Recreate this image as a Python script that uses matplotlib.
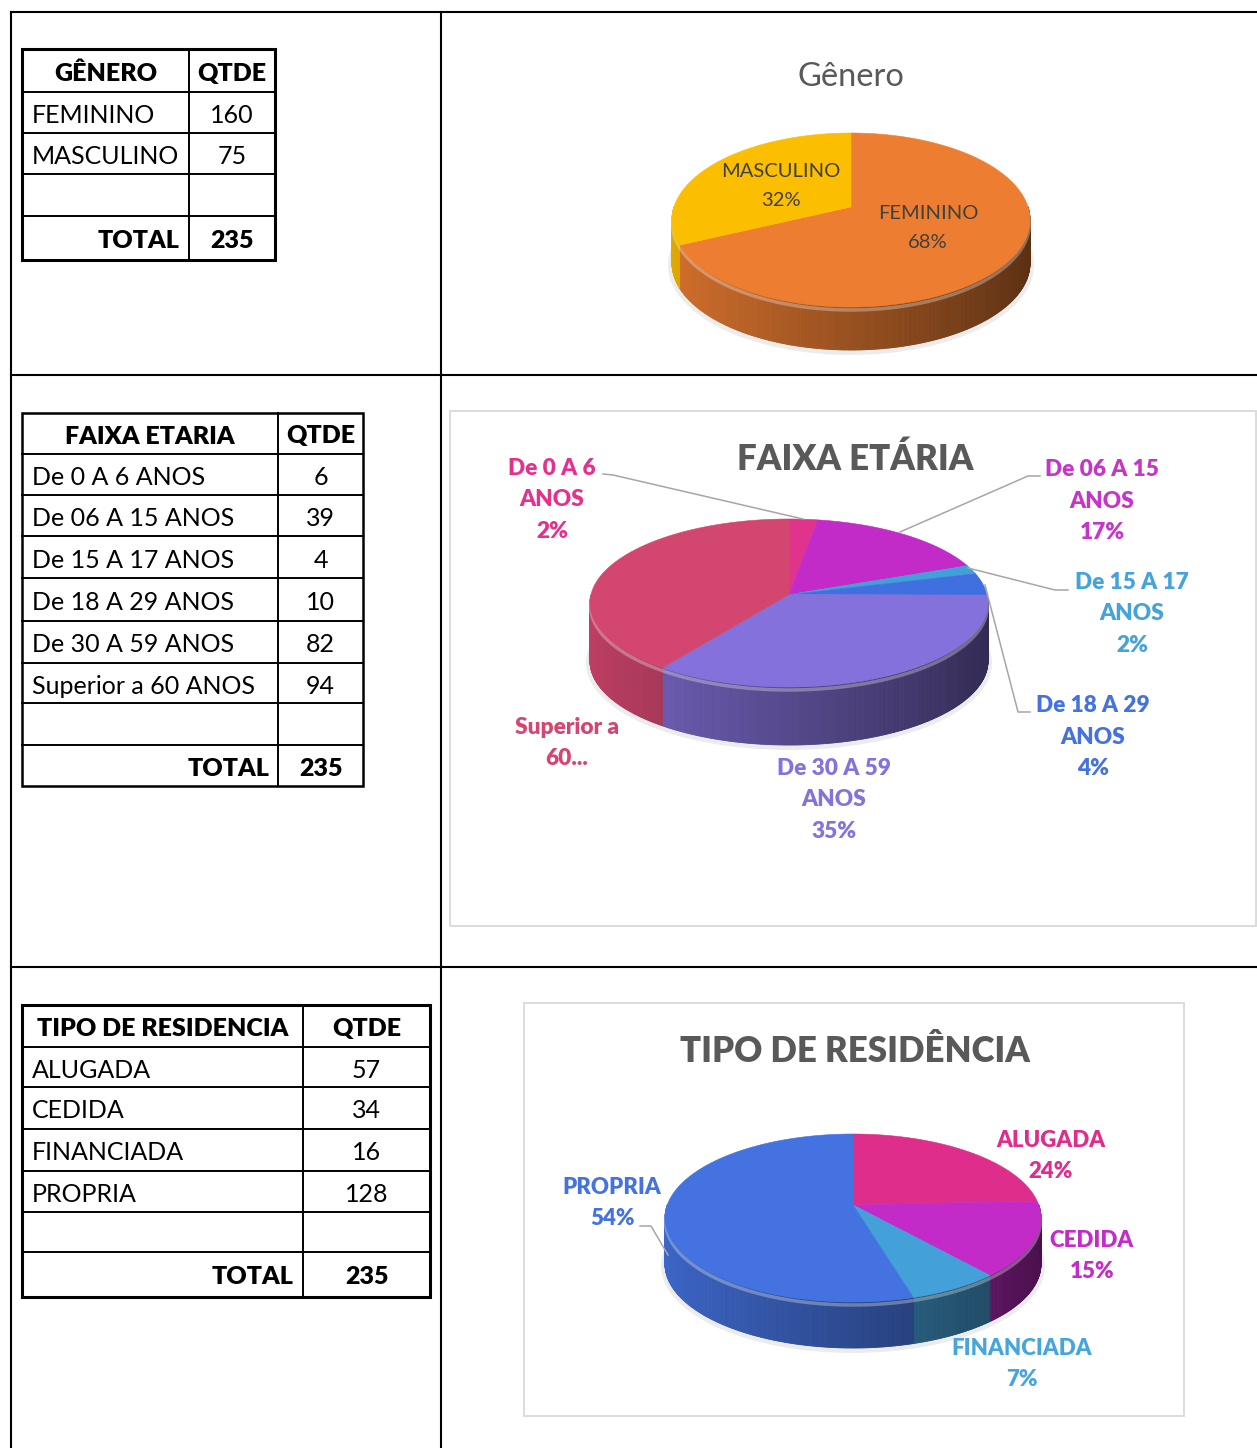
import matplotlib
matplotlib.use("Agg")
import matplotlib.pyplot as plt
import matplotlib.colors as mcolors
from matplotlib.collections import PolyCollection
from matplotlib.patches import Rectangle, Ellipse, Polygon
import numpy as np

plt.rcParams["font.family"] = ["Lato", "DejaVu Sans"]

W, H = 1257, 1448
NEGRITO = "heavy"

# dados
genero = ["FEMININO", "MASCULINO"]
genero_qtde = [160, 75]
genero_pct = ["68%", "32%"]
genero_cores = ["#ED7D31", "#FBBE00"]

faixa = ["De 0 A 6 ANOS", "De 06 A 15 ANOS", "De 15 A 17 ANOS",
         "De 18 A 29 ANOS", "De 30 A 59 ANOS", "Superior a 60 ANOS"]
faixa_qtde = [6, 39, 4, 10, 82, 94]
faixa_rotulos = ["De 0 A 6\nANOS\n2%", "De 06 A 15\nANOS\n17%", "De 15 A 17\nANOS\n2%",
                 "De 18 A 29\nANOS\n4%", "De 30 A 59\nANOS\n35%", "Superior a\n60..."]
faixa_cores = ["#E0338C", "#C22BC8", "#42A0D9", "#4070E0", "#8571DB", "#D3466F"]
faixa_cores_txt = ["#E4318E", "#C634C9", "#45A3DA", "#4472E0", "#8672DD", "#D4466F"]

residencia = ["ALUGADA", "CEDIDA", "FINANCIADA", "PROPRIA"]
residencia_qtde = [57, 34, 16, 128]
residencia_pct = ["24%", "15%", "7%", "54%"]
residencia_cores = ["#DE2D8B", "#C22BC8", "#44A0D8", "#4472E0"]
residencia_cores_txt = ["#DE2D8C", "#C42BC9", "#47A5DD", "#4472E0"]

fig = plt.figure(figsize=(W / 100, H / 100), dpi=100)


def eixo_pixel(z):
    ax = fig.add_axes([0, 0, 1, 1], zorder=z)
    ax.set_xlim(0, W)
    ax.set_ylim(H, 0)
    ax.axis("off")
    return ax


bg = eixo_pixel(0)
topo = eixo_pixel(5)

# grade da pagina
lw_grade = 1.5
bg.plot([11, 11], [12, H], color="black", lw=lw_grade)
bg.plot([441, 441], [12, H], color="black", lw=lw_grade)
for y in [12, 375, 967]:
    bg.plot([11, W], [y, y], color="black", lw=lw_grade)


def tabela(xs, ys, cabecalho, nomes, qtdes, borda):
    x0, xm, x1 = xs
    for y in ys[1:-1]:
        bg.plot([x0, x1], [y, y], color="black", lw=1.4)
    bg.plot([xm, xm], [ys[0], ys[-1]], color="black", lw=1.4)
    bg.add_patch(Rectangle((x0, ys[0]), x1 - x0, ys[-1] - ys[0], fill=False,
                           lw=borda, ec="black", joinstyle="miter"))
    meios = [(a + b) / 2 + 3 for a, b in zip(ys[:-1], ys[1:])]
    cq = (xm + x1) / 2
    fs = 18
    bg.text((x0 + xm) / 2, meios[0], cabecalho, ha="center", va="center",
            fontsize=fs, fontweight=NEGRITO)
    bg.text(cq, meios[0], "QTDE", ha="center", va="center", fontsize=fs, fontweight=NEGRITO)
    for i, (n, q) in enumerate(zip(nomes, qtdes)):
        bg.text(x0 + 10, meios[i + 1], n, ha="left", va="center", fontsize=fs)
        bg.text(cq, meios[i + 1], str(q), ha="center", va="center", fontsize=fs)
    bg.text(xm - 9, meios[-1], "TOTAL", ha="right", va="center", fontsize=fs,
            fontweight=NEGRITO)
    bg.text(cq, meios[-1], str(sum(qtdes)), ha="center", va="center",
            fontsize=fs, fontweight=NEGRITO)


tabela((22, 189, 275), [49, 92, 133, 174, 216, 260], "GÊNERO", genero, genero_qtde, 2.2)
tabela((22, 278, 363), [413, 454, 495, 536, 578, 621, 663, 703, 745, 786],
       "FAIXA ETARIA", faixa, faixa_qtde, 1.8)
tabela((22, 303, 430), [1005, 1047, 1087, 1129, 1171, 1212, 1252, 1297],
       "TIPO DE RESIDENCIA", residencia, residencia_qtde, 2.2)

# caixas dos graficos
bg.add_patch(Rectangle((450, 411), 806, 515, fc="white", ec="#d9d9d9", lw=1.3))
bg.add_patch(Rectangle((524, 1003), 660, 413, fc="white", ec="#d9d9d9", lw=1.3))


def proj(u, v, a):
    # perspectiva simples: o lado de tras fica menor
    return u / (1 + a * v), v / (1 + a * v)


def pizza3d(cx, cy, rx, ry, prof, valores, cores, a):
    t = np.linspace(0, 2 * np.pi, 1441)
    bx, by = proj(np.cos(t), np.sin(t), a)
    xmax, ytop, ybot = bx.max(), by.max(), by.min()
    sx = rx / xmax
    sy = 2 * ry / (ytop - ybot)
    yc = (ytop + ybot) / 2
    d = prof / sy
    m = 0.12
    x0, x1 = -xmax - m, xmax + m
    y0, y1 = ybot - d - m, ytop + m
    px_esq = cx + x0 * sx
    px_topo = cy - (y1 - yc) * sy
    larg, alt = (x1 - x0) * sx, (y1 - y0) * sy
    ax = fig.add_axes([px_esq / W, 1 - (px_topo + alt) / H, larg / W, alt / H], zorder=2)
    fatias, _ = ax.pie(valores, colors=cores, startangle=90, counterclock=False,
                       wedgeprops=dict(linewidth=0))
    ax.set_aspect("auto")
    ax.set_xlim(x0, x1)
    ax.set_ylim(y0, y1)
    ax.axis("off")
    ax.add_patch(Ellipse((0, yc - d - 2 / sy), 2 * xmax + 8 / sx, ytop - ybot + 6 / sy,
                         fc="#ececec", lw=0, zorder=0))
    polys, cs = [], []
    for f, cor in zip(fatias, cores):
        f.set_visible(False)
        th = np.radians(np.linspace(f.theta1, f.theta2, int(abs(f.theta2 - f.theta1)) * 2 + 2))
        ux, uy = proj(np.cos(th), np.sin(th), a)
        ax.add_patch(Polygon(np.column_stack([np.r_[0, ux], np.r_[0, uy]]),
                             closed=True, fc=cor, ec=cor, lw=0.4, zorder=3))
        rgb = np.array(mcolors.to_rgb(cor))
        for i in range(len(th) - 1):
            meio = np.degrees((th[i] + th[i + 1]) / 2) % 360
            if meio < 180:
                continue
            polys.append([(ux[i], uy[i]), (ux[i + 1], uy[i + 1]),
                          (ux[i + 1], uy[i + 1] - d), (ux[i], uy[i] - d)])
            fator = 0.9 - 0.52 * (1 + np.cos(np.radians(meio))) / 2
            cs.append(np.clip(rgb * fator, 0, 1))
    ax.add_collection(PolyCollection(polys, facecolors=cs, edgecolors=cs,
                                     linewidths=0.6, zorder=2))
    tf = np.linspace(np.pi, 2 * np.pi, 300)
    fx, fy = proj(np.cos(tf), np.sin(tf), a)
    ax.plot(fx * 0.997, fy - 3 / sy, color="white", alpha=0.3, lw=2.5, zorder=2.5)
    return ax


# Genero
pizza3d(851, 220, 179, 87, 43, genero_qtde, genero_cores, 0.15)
topo.text(851, 77, "Gênero", ha="center", va="center", fontsize=23.5, color="#595959")
for nome, pct, (x, y) in zip(genero, genero_pct, [(928, 228), (781, 186)]):
    topo.text(x, y, nome + "\n" + pct, ha="center", va="center", fontsize=14.5,
              color="#404040", linespacing=1.8)

# Faixa etaria
pizza3d(789, 603, 199, 84, 58, faixa_qtde, faixa_cores, 0.1)
topo.text(855, 459, "FAIXA ETÁRIA", ha="center", va="center", fontsize=25,
          fontweight=NEGRITO, color="#595959")
pos_faixa = [(552, 500), (1102, 501), (1132, 614), (1093, 737), (834, 800), (567, 743)]
for rot, cor, (x, y) in zip(faixa_rotulos, faixa_cores_txt, pos_faixa):
    topo.text(x, y, rot, ha="center", va="center", fontsize=16.3, fontweight=NEGRITO,
              color=cor, linespacing=1.62)
guias = [[(603, 474), (613, 475), (803, 519)],
         [(1040, 476), (1028, 476), (900, 532)],
         [(1068, 590), (1055, 590), (968, 568)],
         [(1030, 712), (1018, 712), (985, 585)]]
for g in guias:
    gx, gy = zip(*g)
    topo.plot(gx, gy, color="#a6a6a6", lw=1.1)

# Tipo de residencia
pizza3d(853, 1218, 188, 84, 46, residencia_qtde, residencia_cores, 0.155)
topo.text(855, 1051, "TIPO DE RESIDÊNCIA", ha="center", va="center", fontsize=25,
          fontweight=NEGRITO, color="#595959")
pos_res = [(1051, 1156), (1092, 1256), (1022, 1364), (612, 1203)]
for nome, pct, cor, (x, y) in zip(residencia, residencia_pct, residencia_cores_txt, pos_res):
    topo.text(x, y, nome + "\n" + pct, ha="center", va="center", fontsize=16,
              fontweight=NEGRITO, color=cor, linespacing=1.64)
topo.plot([640, 651, 668], [1226, 1226, 1255], color="#a6a6a6", lw=1.1)

fig.savefig("out.png", dpi=100)
